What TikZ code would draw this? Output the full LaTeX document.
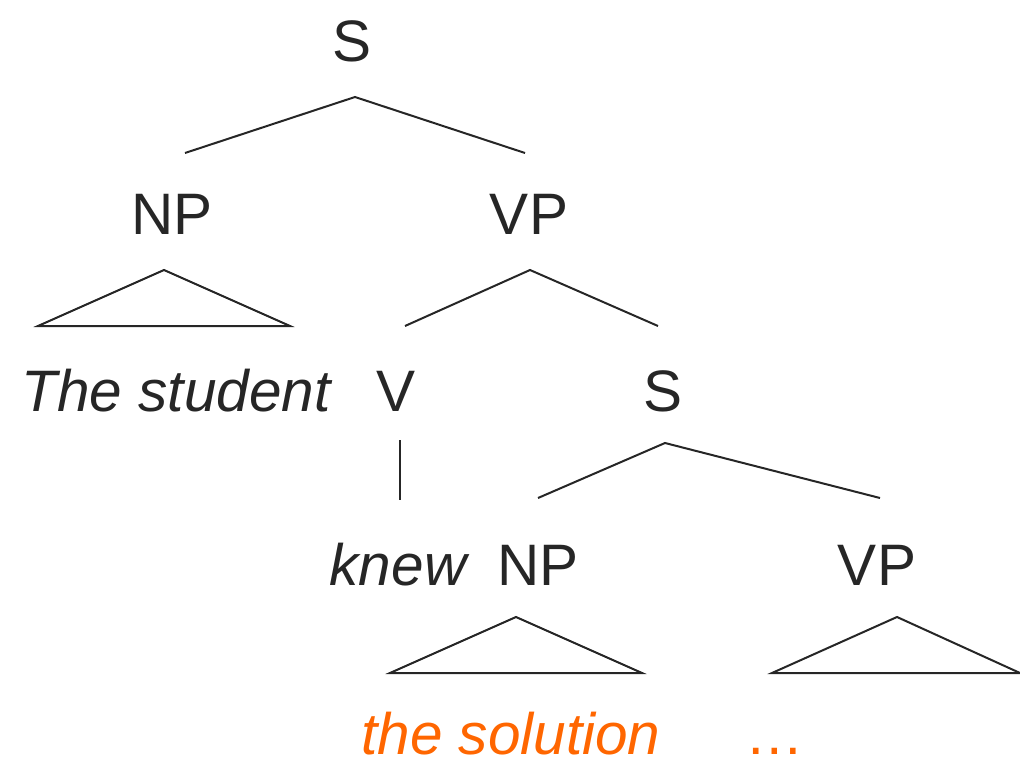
\documentclass[tikz,border=0pt]{standalone}
\usepackage{fontspec}
\setmainfont{Liberation Sans}
\definecolor{ink}{HTML}{262626}
\definecolor{hilite}{HTML}{FF6600}
\begin{document}
\begin{tikzpicture}[x=1pt,y=-1pt,
  lbl/.style={anchor=base,inner sep=0pt,text=ink,font=\fontsize{58.5}{58.5}\selectfont},
  word/.style={lbl,font=\fontsize{58.5}{58.5}\selectfont\itshape},
  branch/.style={draw=ink,line width=2pt},
  roof/.style={draw=ink,line width=2pt,line join=miter}]
\useasboundingbox (0,0) rectangle (1020,760);

% category labels
\node[lbl] (s1) at (352,62) {S};
\node[lbl] (np1) at (172,234) {NP};
\node[lbl] (vp1) at (529,234) {VP};
\node[word] (w1) at (176,411) {The student};
\node[lbl] (v) at (396,411) {V};
\node[lbl] (s2) at (663,411) {S};
\node[word] (w2) at (398,585) {knew};
\node[lbl] (np2) at (538,585) {NP};
\node[lbl] (vp2) at (877,585) {VP};
\node[word,text=hilite] (w3) at (511,754) {the solution};
\node[lbl,text=hilite] (w4) at (775,754) {\dots};

% branch end points
\coordinate (s1b) at (355,97);
\coordinate (np1t) at (185,153);
\coordinate (vp1t) at (525,153);
\coordinate (np1b) at (164,270);
\coordinate (np1l) at (38,326);
\coordinate (np1r) at (290,326);
\coordinate (vp1b) at (530,270);
\coordinate (vt) at (405,326);
\coordinate (s2t) at (658,326);
\coordinate (vb) at (400,440);
\coordinate (w2t) at (400,500);
\coordinate (s2b) at (665,443);
\coordinate (np2t) at (538,498);
\coordinate (vp2t) at (880,498);
\coordinate (np2b) at (516,617);
\coordinate (np2l) at (390,673);
\coordinate (np2r) at (642,673);
\coordinate (vp2b) at (897,617);
\coordinate (vp2l) at (772,673);
\coordinate (vp2r) at (1020,673);

% branches
\draw[branch] (np1t) -- (s1b) -- (vp1t);
\draw[branch] (vt) -- (vp1b) -- (s2t);
\draw[branch] (vb) -- (w2t);
\draw[branch] (np2t) -- (s2b) -- (vp2t);

% triangles
\draw[roof] (np1l) -- (np1b) -- (np1r) -- cycle;
\draw[roof] (np2l) -- (np2b) -- (np2r) -- cycle;
\draw[roof] (vp2l) -- (vp2b) -- (vp2r) -- cycle;
\end{tikzpicture}
\end{document}
